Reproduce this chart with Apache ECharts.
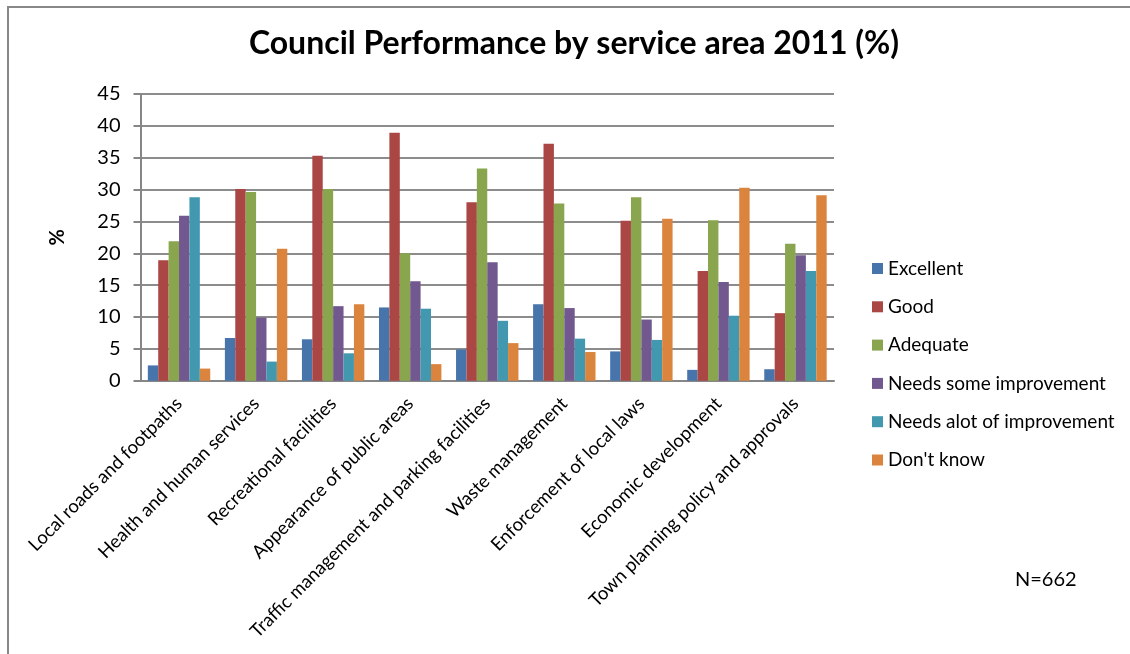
<!DOCTYPE html>
<html>
<head>
<meta charset="utf-8">
<title>Council Performance by service area 2011</title>
<script src="https://cdn.jsdelivr.net/npm/echarts@6/dist/echarts.min.js"></script>
<style>
  html, body { margin: 0; padding: 0; background: #ffffff; }
  #chart { width: 1130px; height: 654px; }
</style>
</head>
<body>
<div id="chart"></div>
<script>
// Service areas rated in the 2011 community survey
const categories = [
  'Local roads and footpaths',
  'Health and human services',
  'Recreational facilities',
  'Appearance of public areas',
  'Traffic management and parking facilities',
  'Waste management',
  'Enforcement of local laws',
  'Economic development',
  'Town planning policy and approvals'
];

// Share of respondents (%) giving each rating, per service area
const excellent        = [2.4, 6.7, 6.5, 11.5, 4.9, 12.0, 4.6, 1.7, 1.8];
const good             = [18.9, 30.1, 35.3, 38.9, 28.0, 37.2, 25.1, 17.2, 10.6];
const adequate         = [21.9, 29.6, 30.1, 20.0, 33.3, 27.8, 28.8, 25.2, 21.5];
const needsSome        = [25.9, 9.9, 11.7, 15.6, 18.6, 11.4, 9.6, 15.5, 19.7];
const needsALot        = [28.8, 3.0, 4.3, 11.3, 9.4, 6.6, 6.4, 10.2, 17.2];
const dontKnow         = [1.9, 20.7, 12.0, 2.6, 5.9, 4.5, 25.4, 30.3, 29.1];

const seriesNames = ['Excellent', 'Good', 'Adequate', 'Needs some improvement', 'Needs alot of improvement', "Don't know"];
const seriesData = [excellent, good, adequate, needsSome, needsALot, dontKnow];
const seriesColors = ['#4674AB', '#AA4643', '#89A54E', '#71588F', '#4198AF', '#DB843D'];

const yTicks = { min: 0, max: 45, interval: 5 };
const sampleNote = 'N=662';

const font = 'Lato, "Open Sans", sans-serif';

const chart = echarts.init(document.getElementById('chart'), null, { renderer: 'canvas' });

chart.setOption({
  animation: false,
  backgroundColor: '#ffffff',
  title: {
    text: 'Council Performance by service area 2011 (%)',
    left: 574,
    top: 28,
    textAlign: 'center',
    padding: 0,
    textStyle: { fontFamily: font, fontWeight: 'bold', fontSize: 32, color: '#000000' }
  },
  legend: {
    orient: 'vertical',
    left: 872,
    top: 259,
    padding: 0,
    itemWidth: 11,
    itemHeight: 11,
    itemGap: 19.3,
    icon: 'rect',
    data: seriesNames,
    textStyle: { fontFamily: font, fontSize: 19, color: '#000000', padding: [0, 0, 0, 0] }
  },
  grid: {
    left: 140.5,
    right: 296,
    top: 94,
    bottom: 273.3,
    containLabel: false
  },
  xAxis: {
    type: 'category',
    data: categories,
    axisLine: { lineStyle: { color: '#868686', width: 2 } },
    axisTick: { show: false },
    axisLabel: {
      rotate: 45,
      interval: 0,
      margin: 20,
      fontFamily: font,
      fontSize: 18.5,
      color: '#000000'
    }
  },
  yAxis: {
    type: 'value',
    min: yTicks.min,
    max: yTicks.max,
    interval: yTicks.interval,
    name: '%',
    nameLocation: 'middle',
    nameGap: 73,
    nameTextStyle: { fontFamily: font, fontWeight: 'bold', fontSize: 20, color: '#000000' },
    axisLine: { show: true, lineStyle: { color: '#868686', width: 2 } },
    axisTick: { show: true, length: 7, lineStyle: { color: '#868686', width: 2 } },
    splitLine: { lineStyle: { color: '#8c8c8c', width: 2 } },
    axisLabel: {
      margin: 20,
      fontFamily: font,
      fontSize: 20,
      color: '#000000'
    }
  },
  series: seriesNames.map((name, i) => ({
    name: name,
    type: 'bar',
    data: seriesData[i],
    barGap: '0%',
    barCategoryGap: '19%',
    itemStyle: { color: seriesColors[i] }
  })),
  graphic: [
    {
      type: 'rect',
      shape: { x: 8, y: 7, width: 1200, height: 700 },
      style: { fill: 'none', stroke: '#888888', lineWidth: 2 },
      silent: true,
      z: 100
    },
    {
      type: 'text',
      left: 1015,
      top: 570,
      style: { text: sampleNote, fontFamily: font, fontSize: 20, fill: '#000000' }
    }
  ]
});
</script>
</body>
</html>
